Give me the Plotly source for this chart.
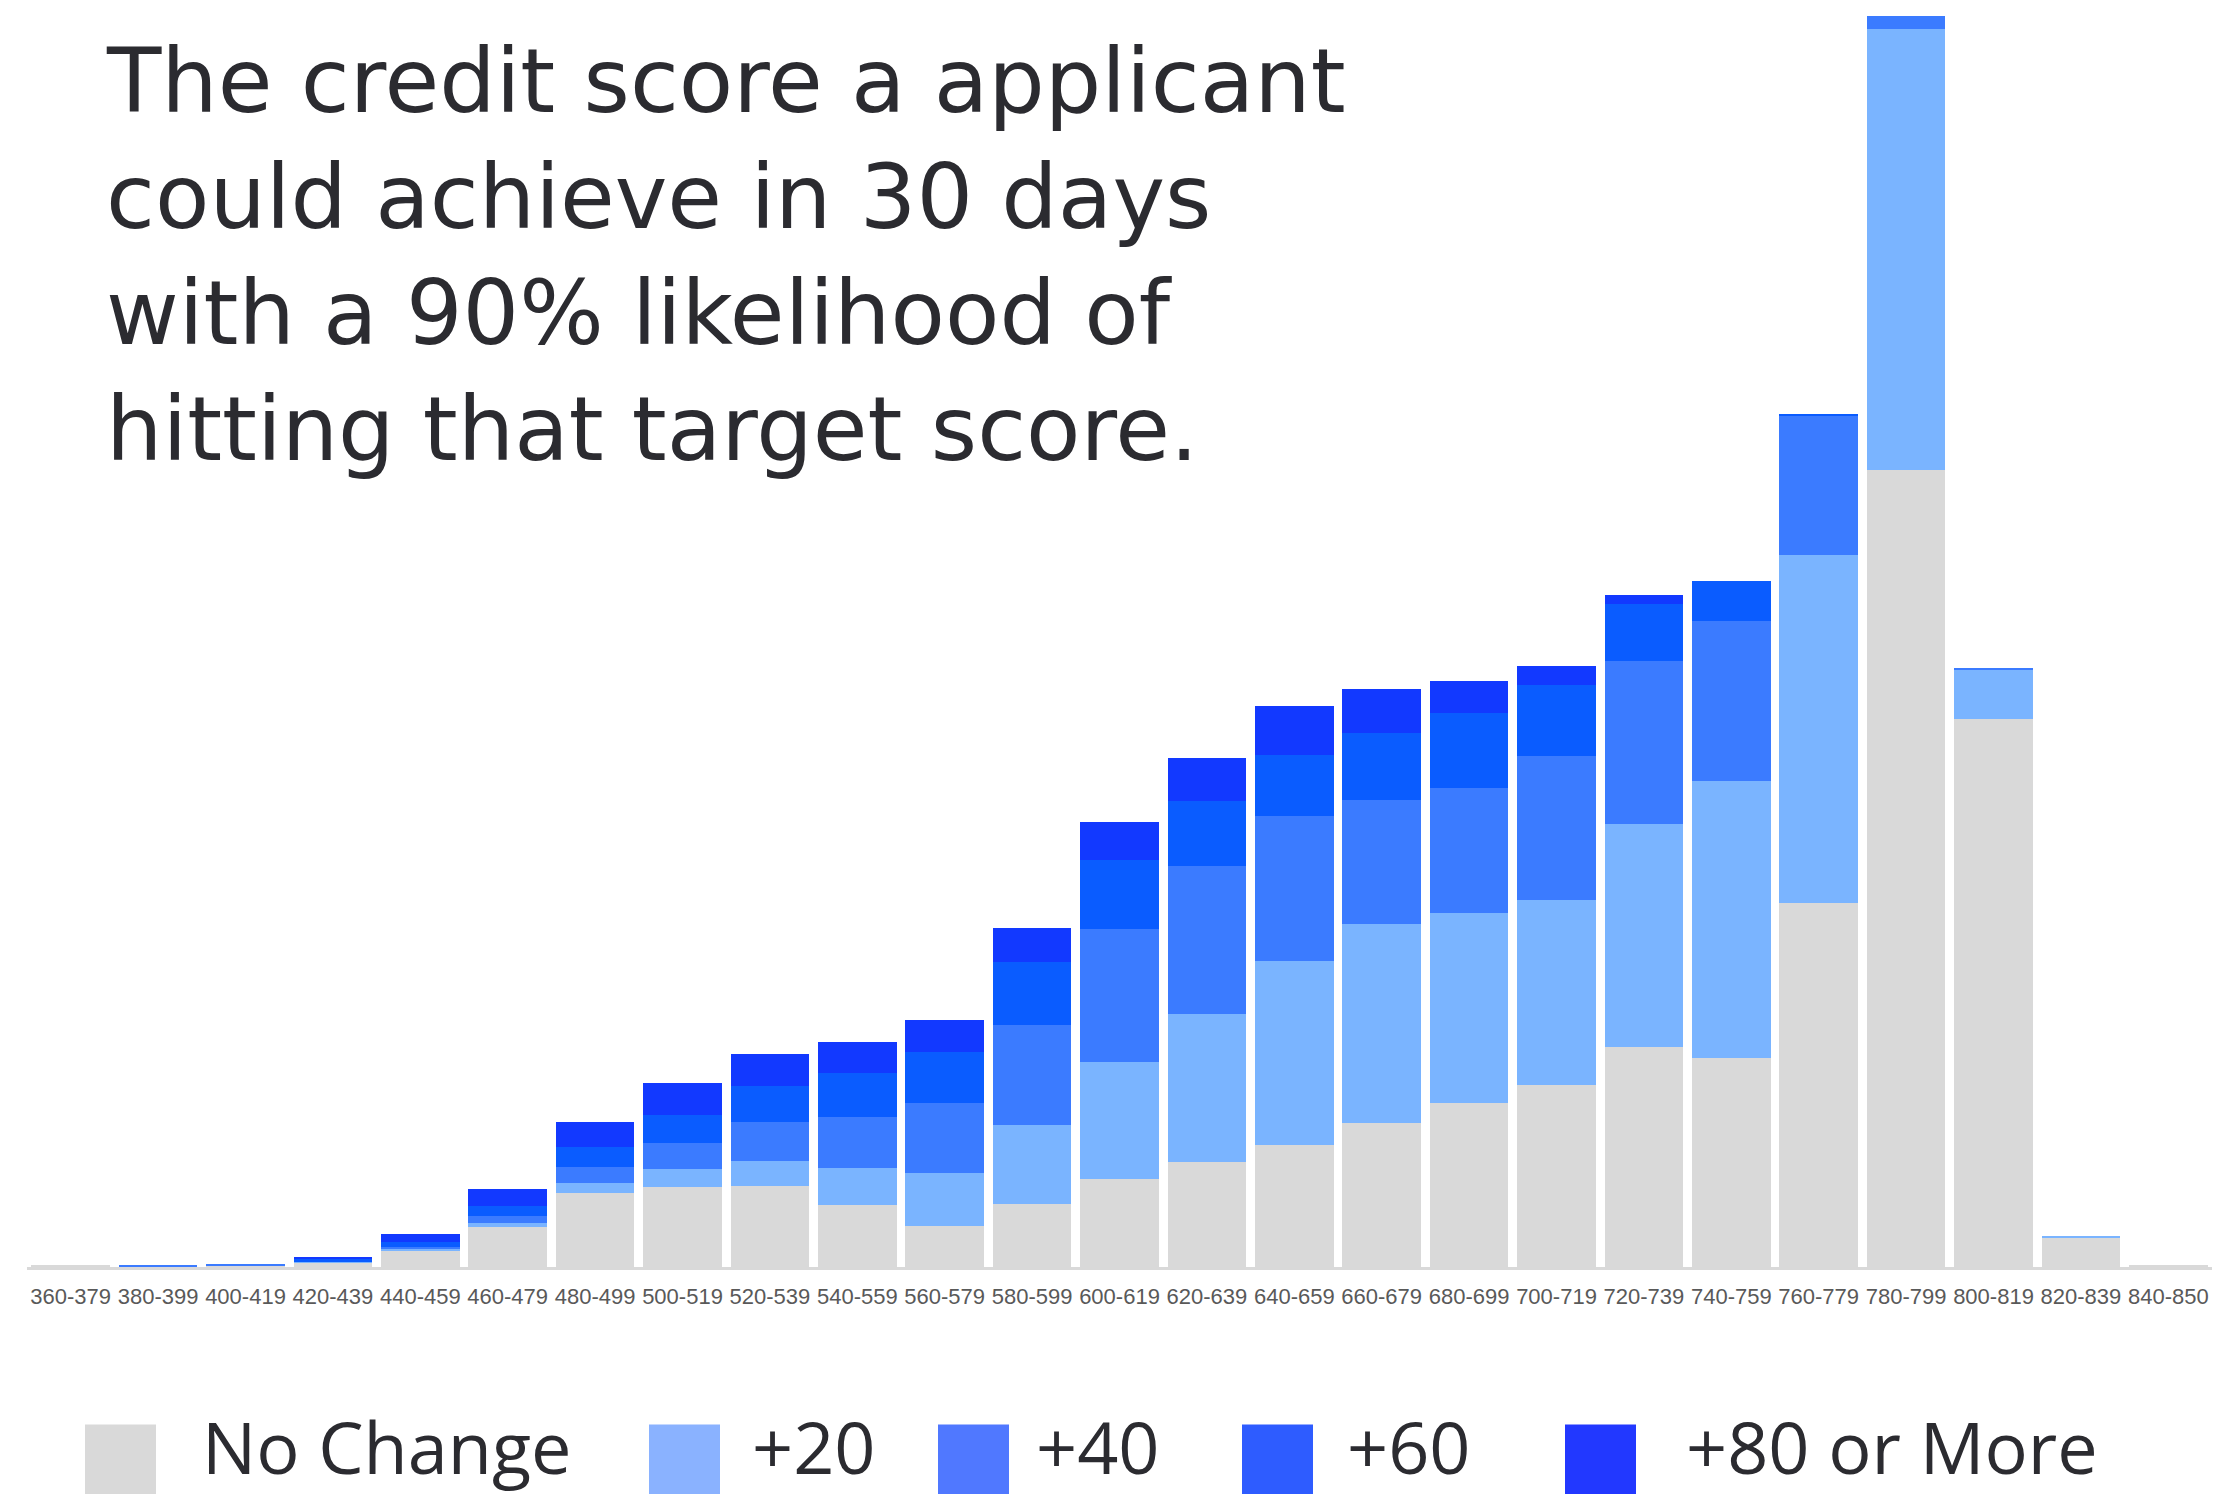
import plotly.graph_objects as go

# ---- data (stack heights per score band) ----
categories = ["360-379", "380-399", "400-419", "420-439", "440-459", "460-479", "480-499",
              "500-519", "520-539", "540-559", "560-579", "580-599", "600-619", "620-639",
              "640-659", "660-679", "680-699", "700-719", "720-739", "740-759", "760-779",
              "780-799", "800-819", "820-839", "840-850"]
no_change = [0.8, 0.3, 0.8, 3.3, 11.8, 28.0, 52.4, 56.7, 57.0, 44.0, 29.0, 44.3, 62.0, 74.0,
             85.9, 101.7, 115.5, 128.7, 155.2, 147.3, 256.6, 562.5, 386.6, 20.5, 0.8]
plus20 = [0.0, 0.3, 0.4, 0.3, 0.9, 3.1, 7.1, 12.2, 18.0, 26.0, 37.0, 56.1, 82.5, 104.5,
          130.1, 140.4, 134.2, 130.1, 157.1, 195.9, 245.9, 311.0, 34.8, 1.6, 0.0]
plus40 = [0.0, 0.3, 0.8, 0.5, 1.2, 5.1, 10.8, 18.4, 27.0, 36.0, 50.0, 70.5, 93.8, 104.6,
          102.6, 87.6, 88.5, 102.0, 115.6, 112.7, 98.1, 9.4, 1.6, 0.0, 0.0]
plus60 = [0.0, 0.0, 0.0, 1.3, 3.8, 6.6, 14.2, 19.7, 26.0, 31.0, 36.0, 44.1, 49.2, 45.9,
          42.9, 47.2, 52.5, 49.8, 40.3, 28.1, 1.4, 0.0, 0.0, 0.0, 0.0]
plus80 = [0.0, 0.0, 0.0, 1.8, 5.8, 12.2, 17.6, 22.5, 22.0, 22.0, 22.0, 24.0, 26.7, 30.3,
          34.6, 30.8, 22.7, 13.5, 6.3, 0.0, 0.0, 0.0, 0.0, 0.0, 0.0]

series_names = ["No Change", "+20", "+40", "+60", "+80 or More"]
series_values = [no_change, plus20, plus40, plus60, plus80]
bar_colors = ["#d9d9d9", "#7ab4ff", "#3b7bff", "#0a5cff", "#1239ff"]
legend_colors = ["#d9d9d9", "#8ab2ff", "#5078ff", "#2e5cff", "#2238ff"]

title_lines = ["The credit score a applicant", "could achieve in 30 days",
               "with a 90% likelihood of", "hitting that target score."]

W, H = 2223, 1494
ML, MR, MT = 27, 11, 10
BASE = 1267.5
MB = H - BASE
PW = W - ML - MR
PH = BASE - MT


def px_x(px):
    return (px - ML) / PW


def px_y(py):
    return (BASE - py) / PH


fig = go.Figure()
for name, vals, col in zip(series_names, series_values, bar_colors):
    fig.add_trace(go.Bar(x=categories, y=vals, name=name, marker=dict(color=col, line=dict(width=0)),
                         showlegend=False))

TEXT = "#2b2b30"
TITLE_FONT = "DejaVu Sans, Open Sans, sans-serif"
LEG_FONT = "Open Sans, Lato, Noto Sans, sans-serif"
annotations = []
title_centers = [81, 197, 313, 429]
for line, cy in zip(title_lines, title_centers):
    annotations.append(dict(text=line, xref="paper", yref="paper", x=px_x(104), y=px_y(cy),
                            xanchor="left", yanchor="middle", showarrow=False,
                            font=dict(family=TITLE_FONT, size=89, color=TEXT)))

swatch_x = [85, 649, 938, 1242, 1565]
text_x = [200, 750, 1034, 1345, 1684]
shapes = []
for sx, tx, name, col in zip(swatch_x, text_x, series_names, legend_colors):
    shapes.append(dict(type="rect", xref="paper", yref="paper", x0=px_x(sx), x1=px_x(sx + 71),
                       y0=px_y(1425), y1=px_y(1500), fillcolor=col, line=dict(width=0), layer="above"))
    annotations.append(dict(text=name, xref="paper", yref="paper", x=px_x(tx), y=px_y(1447),
                            xanchor="left", yanchor="middle", showarrow=False,
                            font=dict(family=LEG_FONT, size=72, color=TEXT)))

fig.update_layout(
    width=W, height=H, barmode="stack", bargap=0.1,
    margin=dict(l=ML, r=MR, t=MT, b=MB, pad=0),
    paper_bgcolor="white", plot_bgcolor="white",
    xaxis=dict(type="category", showline=True, linecolor="#d9d9d9", linewidth=3,
               ticks="", showgrid=False, zeroline=False, ticklabelstandoff=8,
               tickfont=dict(family="Liberation Sans Narrow, Liberation Sans, sans-serif", size=22,
                             color="#595959")),
    yaxis=dict(range=[0, 887], visible=False, showgrid=False, zeroline=False),
    annotations=annotations, shapes=shapes,
)

fig.write_html("out.html", config={"displayModeBar": False},
               post_script="document.body.style.margin='0';document.body.style.overflow='hidden';")
